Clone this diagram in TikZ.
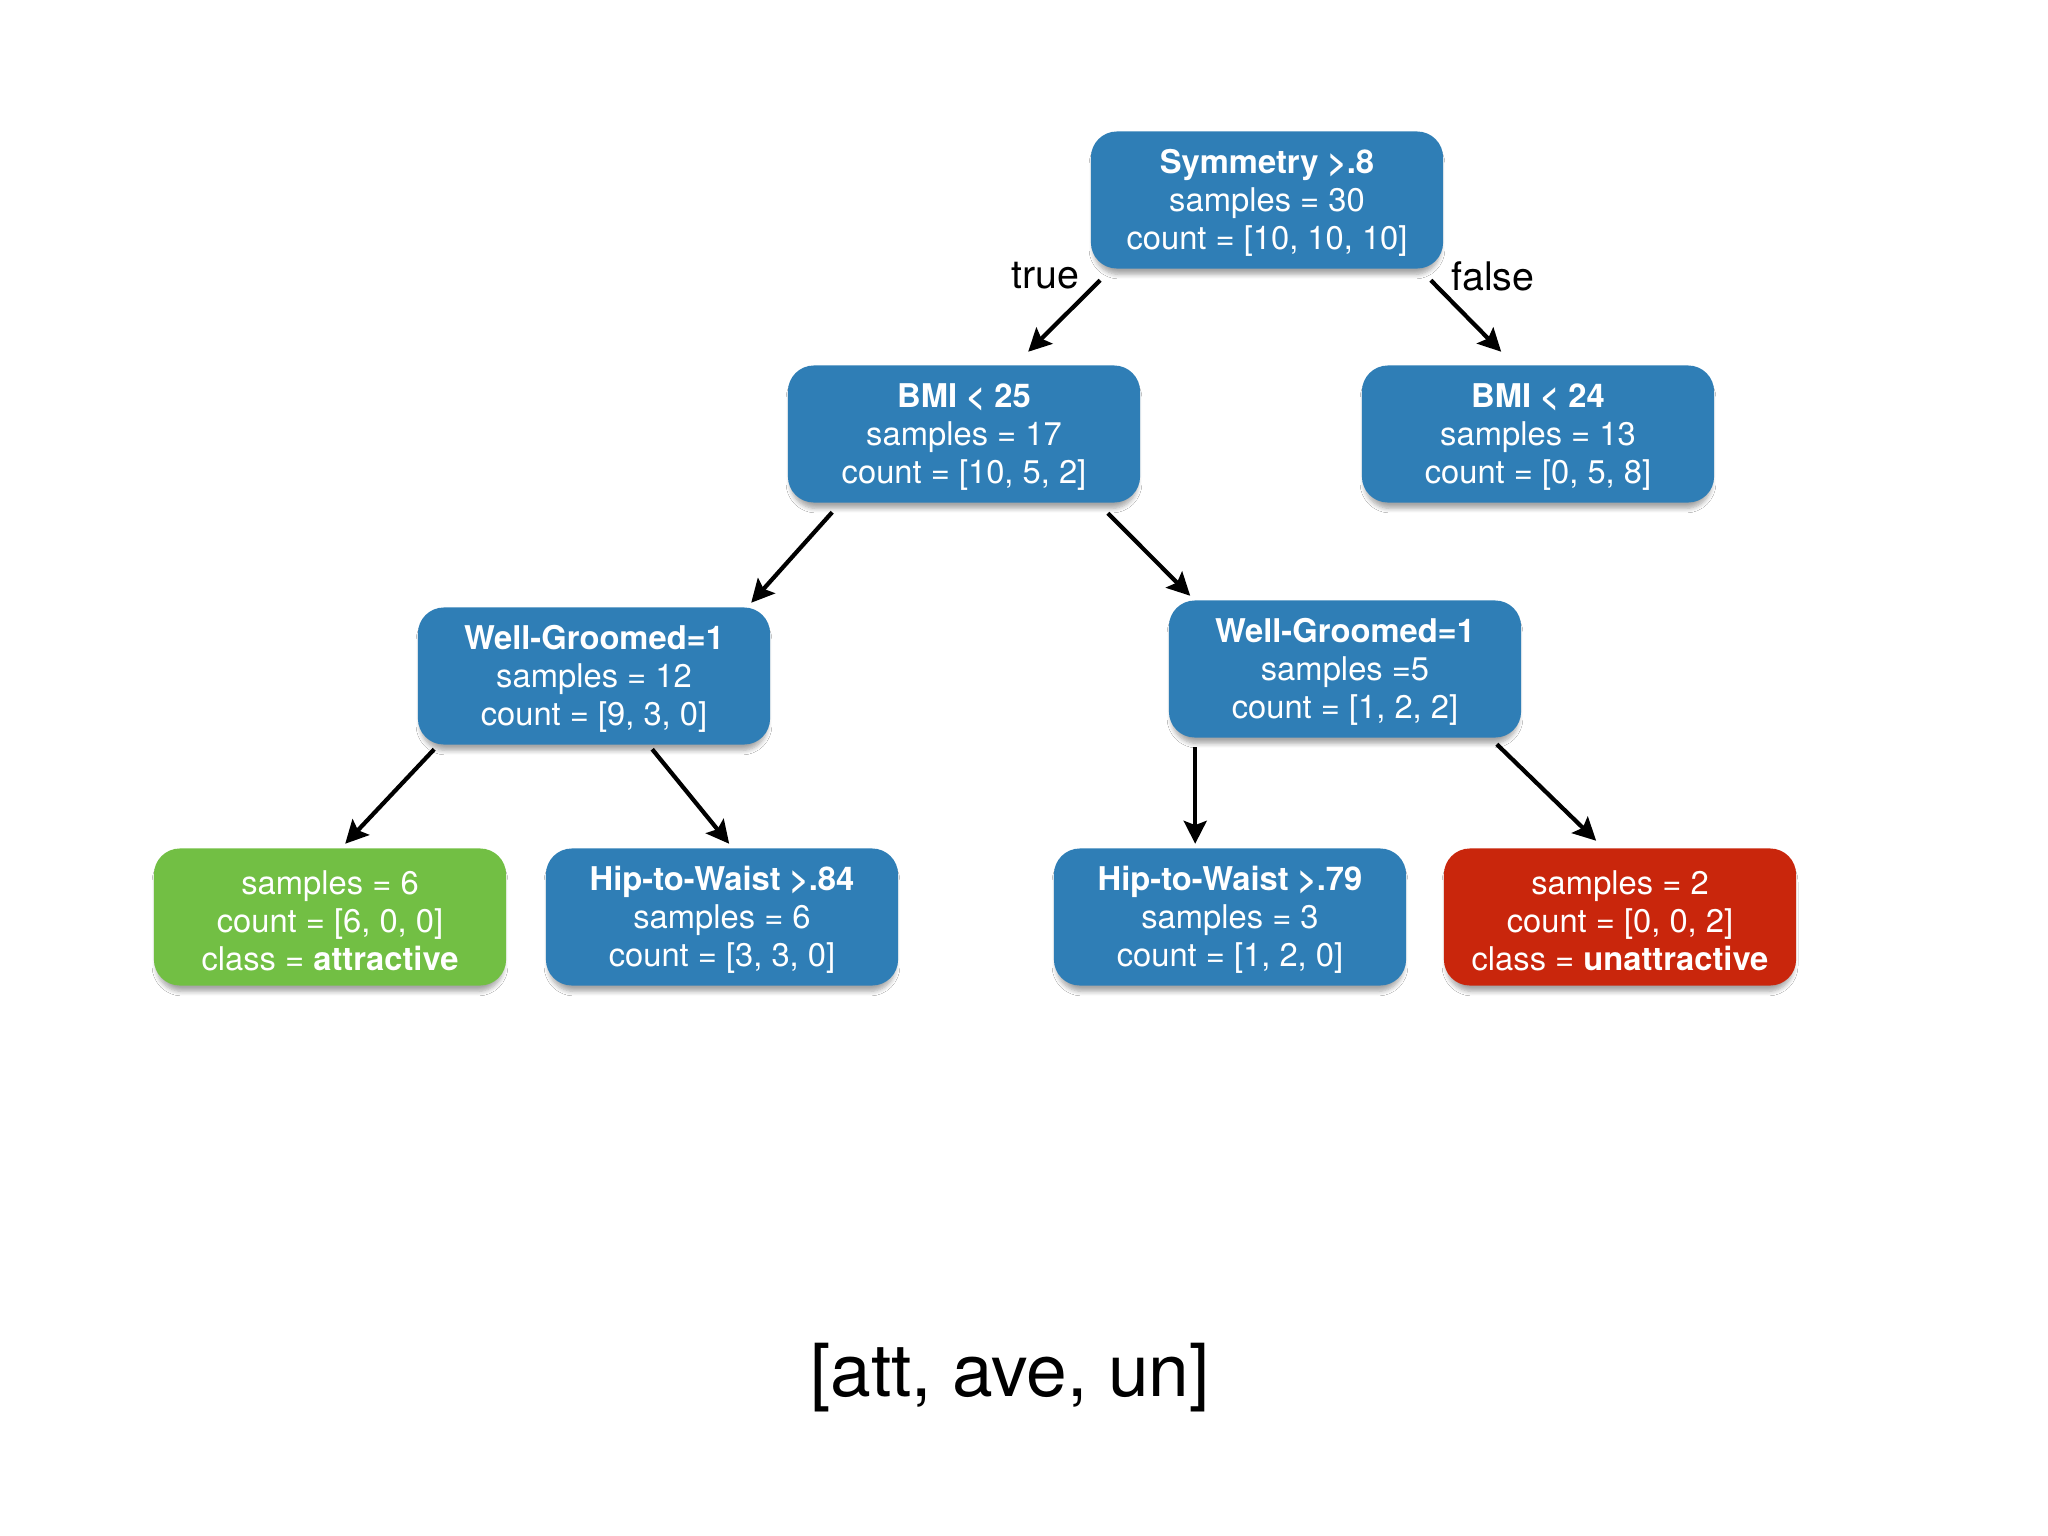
\documentclass[tikz,border=0pt]{standalone}
\usepackage{fontspec}
\setmainfont{TeX Gyre Heros}
\usetikzlibrary{arrows.meta,shadows,shadows.blur}
\definecolor{nodeblue}{RGB}{47,126,182}
\definecolor{leafgreen}{RGB}{114,191,68}
\definecolor{leafred}{RGB}{201,38,12}
\newcommand\toppad{\rule{0pt}{8.7pt}}
\tikzset{
  treebox/.style={rounded corners=2.6mm, minimum width=3.52cm, minimum height=1.37cm,
    inner sep=0pt, align=center, text=white, font=\fontsize{9.3}{10.8}\selectfont,
    blur shadow={shadow xshift=0pt, shadow yshift=-2pt, shadow blur radius=1.3pt,
      shadow scale=0.985, shadow blur steps=6, shadow opacity=35}},
  bluebox/.style={treebox, fill=nodeblue},
  greenbox/.style={treebox, fill=leafgreen},
  redbox/.style={treebox, fill=leafred},
  arr/.style={line width=1.2pt, -{Stealth[length=6.5pt,width=6.5pt,inset=1.2pt]}},
  edgelabel/.style={font=\fontsize{11.2}{13}\selectfont, inner sep=0pt}
}
\begin{document}
\begin{tikzpicture}[x=0.01cm,y=-0.01cm]
\fill[white] (0,0) rectangle (2048,1536);
\useasboundingbox (0,0) rectangle (2048,1536);

\node[bluebox] (root) at (1267,200) {\toppad\textbf{Symmetry >.8}\\samples = 30\\count = [10, 10, 10]};
\node[bluebox] (bmi25) at (964,434) {\toppad\textbf{BMI < 25}\\samples = 17\\count = [10, 5, 2]};
\node[bluebox] (bmi24) at (1538,434) {\toppad\textbf{BMI < 24}\\samples = 13\\count = [0, 5, 8]};
\node[bluebox] (wgl) at (594,676) {\toppad\textbf{Well-Groomed=1}\\samples = 12\\count = [9, 3, 0]};
\node[bluebox] (wgr) at (1345,669) {\toppad\textbf{Well-Groomed=1}\\samples =5\\count = [1, 2, 2]};
\node[greenbox] (att) at (330,917) {\toppad samples = 6\\count = [6, 0, 0]\\class = \textbf{attractive}};
\node[bluebox] (hip84) at (722,917) {\toppad\textbf{Hip-to-Waist >.84}\\samples = 6\\count = [3, 3, 0]};
\node[bluebox] (hip79) at (1230,917) {\toppad\textbf{Hip-to-Waist >.79}\\samples = 3\\count = [1, 2, 0]};
\node[redbox] (unatt) at (1620,917) {\toppad samples = 2\\count = [0, 0, 2]\\class = \textbf{unattractive}};

\draw[arr] ([shift={(10,11)}]root.south west) -- ([shift={(241,-13)}]bmi25.north west);
\draw[arr] ([shift={(-13,11)}]root.south east) -- ([shift={(140,-13)}]bmi24.north west);
\draw[arr] ([shift={(45,9)}]bmi25.south west) -- ([shift={(334,-4)}]wgl.north west);
\draw[arr] ([shift={(-33,10)}]bmi25.south east) -- ([shift={(22,-4)}]wgr.north west);
\draw[arr] ([shift={(17,4)}]wgl.south west) -- ([shift={(192,-4)}]att.north west);
\draw[arr] ([shift={(235,4)}]wgl.south west) -- ([shift={(184,-4)}]hip84.north west);
\draw[arr] ([shift={(27,9)}]wgr.south west) -- ([shift={(142,-4)}]hip79.north west);
\draw[arr] ([shift={(-25,6)}]wgr.south east) -- ([shift={(153,-7)}]unatt.north west);

\node[edgelabel] (truelbl) at (1045,276) {true};
\node[edgelabel] (falselbl) at (1493,276) {false};
\node[font=\fontsize{20.8}{24}\selectfont, inner sep=0pt] (legend) at (1010,1378) {[att, ave, un]};
\end{tikzpicture}
\end{document}
